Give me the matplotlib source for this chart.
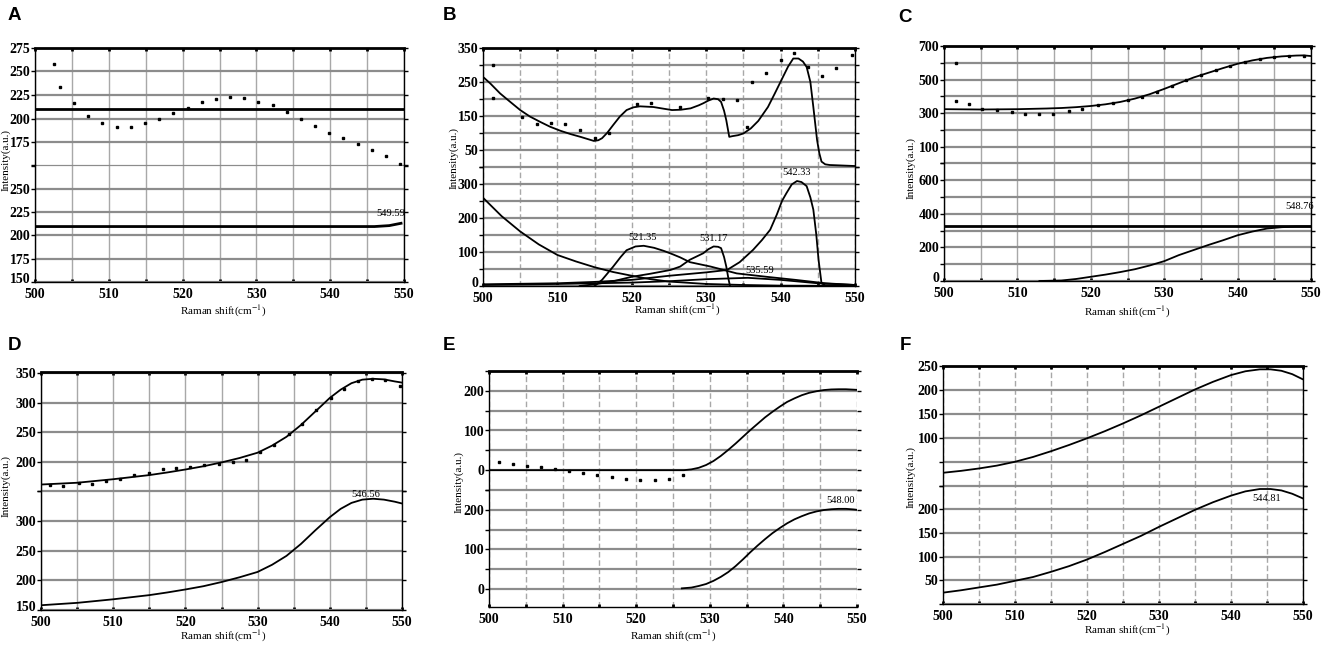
import matplotlib
matplotlib.use("Agg")
import matplotlib.pyplot as plt
import matplotlib.transforms as mtransforms
import numpy as np

plt.rcParams['font.family'] = ['Liberation Serif', 'DejaVu Serif']
plt.rcParams['mathtext.fontset'] = 'stix'

# ---- panel A ----
a_pts_x = [502.6, 503.4, 505.3, 507.2, 509.1, 511.1, 513.0, 514.9, 516.8, 518.7, 520.7, 522.6, 524.5,
           526.4, 528.3, 530.2, 532.2, 534.1, 536.0, 537.9, 539.9, 541.8, 543.7, 545.6, 547.6, 549.5]
a_pts_y = [258, 233, 216, 203, 195, 191, 191, 195, 200, 206, 211, 218, 221,
           223, 222, 218, 214, 207, 200, 192, 185, 179, 173, 166, 160, 152]
a_fit_x = [500, 550]
a_fit_y = [210, 210]
a_peak_x = [500, 546, 548, 549.6]
a_peak_y = [209.5, 209.5, 210.5, 213]

# ---- panel B ----
b_fit_x = [500, 501, 502.3, 503.5, 505, 506.3, 507.7, 509, 510.4, 511.8, 513.1, 514, 514.9, 515.5, 516,
           516.7, 517.5, 518.4, 519.3, 520.2, 521.1, 522.9, 524, 525.4, 526.6, 527.9, 529, 529.6, 530.3,
           531, 531.6, 532, 532.4, 532.7, 533.1, 533.5, 534.3, 535, 536, 537, 538.3, 539.2, 540.1, 541,
           541.7, 542.4, 543, 543.5, 544, 544.4, 544.9, 545.2, 545.5, 546, 546.6, 550]
b_fit_y = [265, 245, 216, 194, 167, 148, 132, 118, 106, 96, 88, 82, 76, 78, 84,
           100, 123, 148, 167, 175, 178, 176, 172, 167, 168, 172, 181, 187, 195,
           201, 199, 191, 165, 137, 88, 90, 93, 98, 113, 135, 176, 215, 255, 295,
           319, 319, 310, 294, 250, 176, 79, 40, 15, 7, 5, 2]
b_pts_x = [501.4, 501.4, 505.2, 507.2, 509.1, 511, 513, 515, 516.9, 520.7, 522.6, 526.5, 530.3, 532.2,
           534.1, 535.5, 536.1, 538, 540, 541.8, 543.7, 545.6, 547.5, 549.6]
b_pts_y = [300, 202, 146, 126, 128, 126, 109, 86, 100, 186, 189, 175, 204, 201,
           198, 116, 250, 275, 314, 336, 294, 267, 291, 330]
b_bg_x = [500, 502.5, 505, 507.5, 510, 512.5, 515, 517.5, 520, 522.5, 525, 530, 535, 540, 550]
b_bg_y = [259, 205, 160, 122, 91, 72, 55, 41, 30, 20, 13, 6, 3, 1, 0]
b_p1_x = [515, 516, 517.5, 518.5, 519.3, 520.5, 521.6, 523, 524.3, 525.5, 526.5, 527.8, 530.6, 534.1,
          538.1, 542, 546, 550]
b_p1_y = [0, 18, 57, 85, 105, 116, 118, 112, 103, 93, 84, 70, 57, 37, 27, 18, 8, 3]
b_p2_x = [513, 515, 517.5, 520, 522.5, 525.2, 526.5, 527.8, 529.6, 530.3, 531, 531.6, 532, 532.4, 532.7,
          533, 533.2]
b_p2_y = [0, 5, 14, 27, 36, 47, 57, 77, 96, 108, 116, 115, 111, 85, 57, 20, 0]
b_p3_x = [500, 510, 520, 525, 530, 535.6, 540, 545, 550]
b_p3_y = [3, 6, 10, 14, 20, 24, 18, 8, 3]
b_p4_x = [500, 510, 515, 520, 525, 530, 532.8, 534.5, 536.3, 537.5, 538.6, 539.5, 540.2, 540.8, 541.5,
          542.2, 542.8, 543.5, 544, 544.4, 544.8, 545.1, 545.5, 546, 550]
b_p4_y = [5, 8, 12, 18, 30, 40, 47, 70, 106, 135, 165, 210, 250, 273, 298,
          308, 305, 293, 260, 224, 150, 77, 8, 2, 0]
b_labels = ['521.35', '531.17', '535.59', '542.33']
b_label_x = [521.4, 531.0, 537.2, 542.2]
b_label_y = [128, 126, 33, 320]

# ---- panel C ----
c_fit_x = [500, 505, 510, 514, 516, 518, 520, 522, 524, 526, 528, 530, 532, 534, 536, 538, 540, 542,
           544, 546, 548, 549, 550]
c_fit_y = [323, 321, 323, 327, 330, 335, 342, 352, 366, 386, 412, 444, 478, 512, 540, 568, 594, 614,
           629, 638, 643, 644, 640]
c_pts_x = [501.6, 501.6, 503.4, 505.2, 507.2, 509.2, 511.1, 513, 514.9, 517, 518.8, 521, 523, 525, 527,
           529, 531, 533, 535, 537, 539, 541, 543, 545, 547, 549]
c_pts_y = [600, 370, 352, 327, 321, 307, 297, 297, 297, 313, 327, 345, 360, 376, 398,
           428, 461, 495, 526, 554, 581, 604, 622, 634, 641, 643]
c_base_x = [500, 550]
c_base_y = [326, 326]
c_peak_x = [513, 516, 518, 520, 522, 524, 526, 528, 530, 532, 534, 536, 538, 540, 542, 544, 546, 548, 550]
c_peak_y = [0, 3, 12, 25, 38, 53, 70, 92, 118, 154, 184, 214, 242, 272, 294, 312, 320, 324, 324]

# ---- panel D ----
d_fit_x = [500, 502.5, 505, 507.5, 510, 512.5, 515, 517.5, 520, 522.5, 525, 527.5, 530, 532, 534, 536,
           538, 540, 541.5, 543, 544.5, 546, 547.5, 549, 550]
d_fit_y = [161, 162.5, 164, 167, 170, 173.5, 177, 181.5, 186.5, 192, 198.5, 206, 215, 227, 242, 262,
           285, 308, 322, 333, 339, 340.5, 339.5, 336, 334]
d_pts_x = [501.3, 503.1, 505.2, 507.1, 509.0, 511.0, 512.9, 514.9, 516.9, 518.7, 520.7, 522.6, 524.6,
           526.6, 528.4, 530.4, 532.3, 534.3, 536.1, 538.1, 540.1, 541.9, 543.9, 545.8, 547.7, 549.7]
d_pts_y = [160, 159, 163, 162, 167, 171, 177, 181, 187, 189, 191, 194, 195,
           200, 202, 216, 228, 247, 263, 287, 308, 323, 336, 340, 338, 328]
d_peak_x = [500, 502.5, 505, 507.5, 510, 512.5, 515, 517.5, 520, 522.5, 525, 527.5, 530, 532, 534, 536,
            538, 540, 541.5, 543, 544.5, 546, 547.5, 549, 550]
d_peak_y = [158, 160, 162, 165, 168, 171.5, 175, 179.5, 184.5, 190, 197, 205, 214, 226, 241, 261,
            284, 306, 320, 330, 335.5, 337, 335.5, 332, 329]

# ---- panel E ----
e_fit_x = [500, 526.5, 527.5, 528.5, 529.5, 530.5, 531.5, 532.5, 533.5, 534.5, 535.5, 536.5, 537.5,
           538.5, 539.5, 540.5, 541.5, 542.5, 543.5, 544.5, 545.5, 546.5, 547.5, 548.5, 549.5, 550]
e_fit_y = [0, 0, 2, 6, 13, 23, 36, 51, 67, 84, 101, 117, 133,
           147, 160, 172, 181, 189, 195, 199, 202, 203.5, 204, 204, 203, 202.5]
e_pts_x = [501.3, 503.2, 505.1, 507, 508.9, 510.9, 512.8, 514.7, 516.7, 518.6, 520.5, 522.5, 524.4, 526.3]
e_pts_y = [21, 15, 11, 8, 2.5, -1, -6, -11, -17, -22, -25, -25, -22, -12.5]
e_peak_x = [526.2, 527.5, 528.5, 529.5, 530.5, 531.5, 532.5, 533.5, 534.5, 535.5, 536.5, 537.5, 538.5,
            539.5, 540.5, 541.5, 542.5, 543.5, 544.5, 545.5, 546.5, 547.5, 548.5, 549.5, 550]
e_peak_y = [2, 4, 8, 13, 21, 31, 43, 58, 75, 93, 110, 126, 141,
            154, 166, 176, 184, 191, 196, 199.5, 201.5, 202.5, 202.5, 201, 200]

# ---- panel F ----
f_fit_x = [500, 502.5, 505, 507.5, 510, 512.5, 515, 517.5, 520, 522.5, 525, 527.5, 530, 532.5, 535,
           537.5, 540, 542, 544, 545.5, 547, 548.5, 550]
f_fit_y = [27, 31, 36, 42, 50, 60, 72, 85, 99, 114, 130, 147, 165, 183, 201,
           217, 231, 239, 243, 243, 240, 233, 222]
f_peak_x = [500, 502.5, 505, 507.5, 510, 512.5, 515, 517.5, 520, 522.5, 525, 527.5, 530, 532.5, 535,
            537.5, 540, 542, 544, 545.5, 547, 548.5, 550]
f_peak_y = [24, 29, 35, 41, 49, 57, 68, 80, 94, 110, 127, 144, 163, 181, 199,
            215, 229, 238, 243, 243, 240, 233, 223]

W, H = 1325, 645
fig = plt.figure(figsize=(13.25, 6.45), dpi=100)


def px_axes(x0, y0, x1, y1):
    return fig.add_axes([x0 / W, 1 - y1 / H, (x1 - x0) / W, (y1 - y0) / H])


def setup(ax, ylim, step, labels, dashed, bottom):
    ax.set_xlim(500, 550)
    ax.set_ylim(ylim)
    start = np.ceil(ylim[0] / step) * step
    ticks = np.arange(start, ylim[1] + 0.1, step)
    ax.set_yticks(ticks)
    ax.set_yticklabels([str(int(t)) if int(t) in labels else '' for t in ticks])
    ax.set_xticks(np.arange(500, 551, 10))
    ax.set_xticks(np.arange(505, 550, 10), minor=True)
    ax.grid(True, axis='y', color='#8c8c8c', lw=1.6)
    ax.grid(True, axis='x', which='both', color='#a8a8a8', lw=1.0,
            ls=(0, (4, 2)) if dashed else '-')
    ax.tick_params(axis='y', which='both', direction='out', length=3, width=1,
                   right=True, labelsize=10, pad=0.5)
    for t in ax.get_yticklabels():
        t.set_fontweight('bold')
    ax.tick_params(axis='x', which='both', direction='in', length=2, width=2,
                   labelsize=10, pad=4)
    for t in ax.get_xticklabels():
        t.set_fontweight('bold')
    for s in ax.spines.values():
        s.set_linewidth(1.0)
    if bottom:
        ax.spines['top'].set_visible(False)
        ax.tick_params(axis='x', which='both', top=False, bottom=True)
        # lift the lowest y label a little so it clears the x labels
        if ticks[0] == ylim[0]:
            lab = ax.get_yticklabels()[0]
            lab.set_transform(lab.get_transform() +
                              mtransforms.ScaledTranslation(0, 3 / 72, fig.dpi_scale_trans))
    else:
        ax.spines['bottom'].set_visible(False)
        ax.spines['top'].set_linewidth(2.0)
        ax.tick_params(axis='x', which='both', top=True, bottom=False, labelbottom=False)
    ax.set_axisbelow(True)


def panel(box, split, top_lim, bot_lim, step, top_labels, bot_labels, dashed):
    x0, y0, x1, y1 = box
    top = px_axes(x0, y0, x1, split)
    bot = px_axes(x0, split, x1, y1)
    setup(top, top_lim, step, top_labels, dashed, False)
    setup(bot, bot_lim, step, bot_labels, dashed, True)
    return top, bot


def labels(letter, lx, ly, yx, yy, xx, xy):
    fig.text(lx / W, 1 - ly / H, letter, family='Liberation Sans', fontweight='bold',
             fontsize=13.5, ha='center', va='center')
    fig.text(yx / W, 1 - yy / H, 'Intensity(a.u.)', rotation=90, fontsize=8,
             ha='center', va='center')
    fig.text(xx / W, 1 - xy / H, 'Raman shift(cm$^{-1}$)', fontsize=8,
             ha='center', va='center')


LW = 1.3
PT = dict(ls='none', marker='s', ms=1.5, color='black')

# A
at, ab = panel((35, 48, 404, 282), 165.5, (150, 275), (150, 275), 25,
               [175, 200, 225, 250, 275], [150, 175, 200, 225, 250], False)
at.plot(a_fit_x, a_fit_y, color='black', lw=2)
at.plot(a_pts_x, a_pts_y, **PT)
ab.plot(a_peak_x, a_peak_y, color='black', lw=2)
ab.text(548.2, 223, '549.59', fontsize=7.5, ha='center', va='center')
labels('A', 14, 15, 6, 160, 223, 311)

# B
bt, bb = panel((483, 48, 855, 286), 166.7, (0, 350), (0, 350), 50,
               [50, 150, 250, 350], [0, 100, 200, 300], True)
bt.plot(b_fit_x, b_fit_y, color='black', lw=LW)
bt.plot(b_pts_x, b_pts_y, **PT)
for cx, cy in [(b_bg_x, b_bg_y), (b_p1_x, b_p1_y), (b_p2_x, b_p2_y), (b_p3_x, b_p3_y), (b_p4_x, b_p4_y)]:
    bb.plot(cx, cy, color='black', lw=LW)
for s, tx, ty in zip(b_labels, b_label_x, b_label_y):
    bb.text(tx, ty, s, fontsize=7.5, ha='center', va='bottom')
labels('B', 450, 15, 454, 158, 677, 310)

# C
ct, cb = panel((944, 46, 1311, 281), 163.3, (0, 700), (0, 700), 100,
               [100, 300, 500, 700], [0, 200, 400, 600], False)
ct.plot(c_fit_x, c_fit_y, color='black', lw=LW)
ct.plot(c_pts_x, c_pts_y, **PT)
cb.plot(c_base_x, c_base_y, color='black', lw=2)
cb.plot(c_peak_x, c_peak_y, color='black', lw=LW)
cb.text(548.4, 446, '548.76', fontsize=7.5, ha='center', va='center')
labels('C', 905, 17, 911, 168, 1127, 312)

# D
dt, db = panel((41, 372, 402, 610), 491, (150, 352), (150, 350), 50,
               [200, 250, 300, 350], [150, 200, 250, 300], False)
dt.plot(d_fit_x, d_fit_y, color='black', lw=LW)
dt.plot(d_pts_x, d_pts_y, **PT)
db.plot(d_peak_x, d_peak_y, color='black', lw=LW)
db.text(545.0, 336, '546.56', fontsize=7.5, ha='center', va='bottom')
labels('D', 15, 346, 6, 486, 223, 636)

# E
et, eb = panel((489, 371, 857, 607), 490, (-50, 250), (-45, 250), 50,
               [0, 100, 200], [0, 100, 200], True)
for ax in (et, eb):
    ax.spines['right'].set_visible(False)
et.plot(e_fit_x, e_fit_y, color='black', lw=LW)
et.plot(e_pts_x, e_pts_y, **PT)
eb.plot(e_peak_x, e_peak_y, color='black', lw=LW)
eb.text(547.7, 212, '548.00', fontsize=7.5, ha='center', va='bottom')
labels('E', 449, 346, 459, 482, 673, 636)

# F
ft, fb = panel((943, 366, 1303, 604), 485.7, (0, 250), (0, 250), 50,
               [100, 150, 200, 250], [50, 100, 150, 200], True)
ft.plot(f_fit_x, f_fit_y, color='black', lw=LW)
fb.plot(f_peak_x, f_peak_y, color='black', lw=LW)
fb.text(544.9, 224, '544.81', fontsize=7.5, ha='center', va='center')
labels('F', 905, 346, 911, 477, 1127, 630)

fig.savefig('out.png', dpi=100)
